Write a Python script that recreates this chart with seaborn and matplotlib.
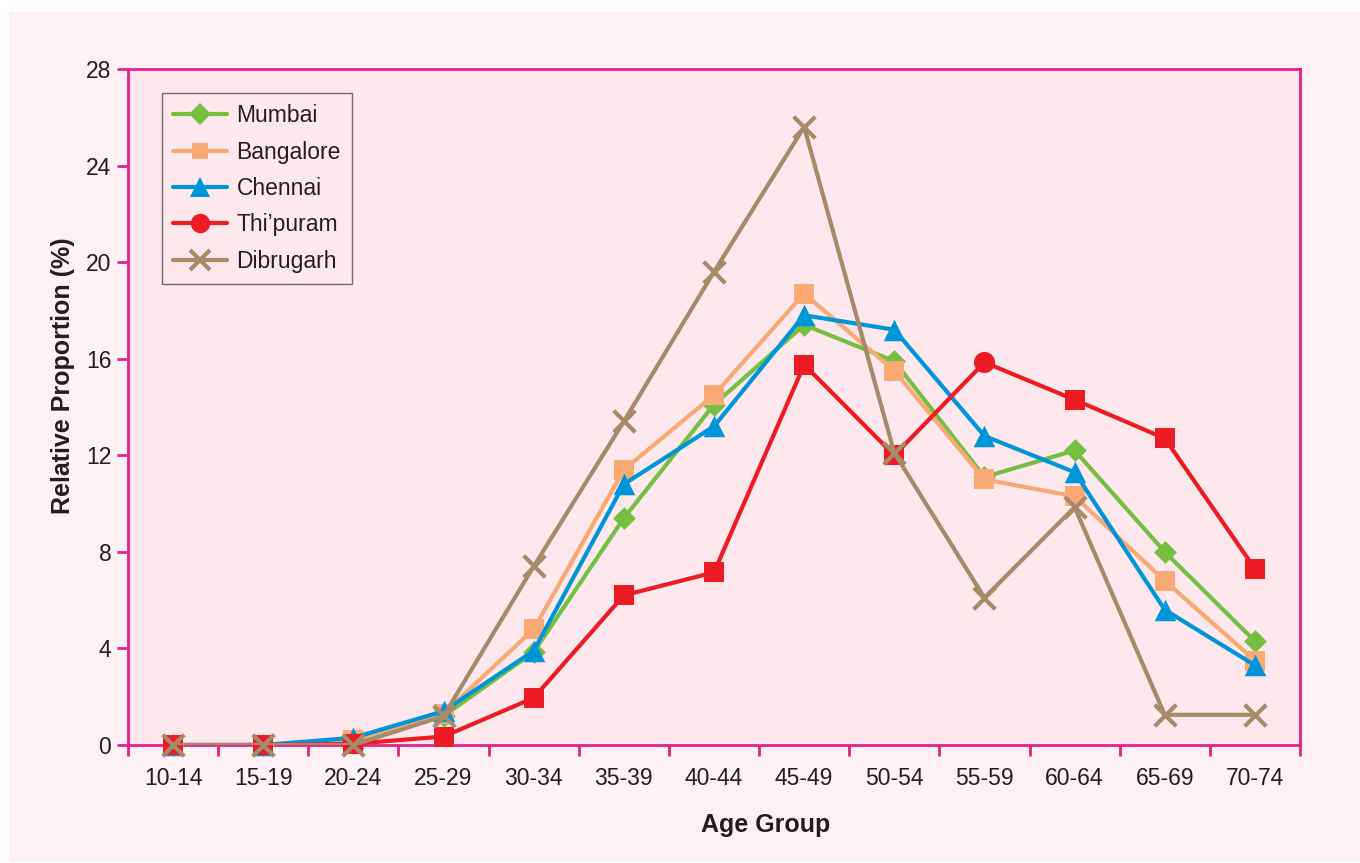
import pandas as pd
import seaborn as sns
import matplotlib.pyplot as plt
from matplotlib.lines import Line2D
from matplotlib.patches import Rectangle

# Data
age_groups = ["10-14", "15-19", "20-24", "25-29", "30-34", "35-39", "40-44",
              "45-49", "50-54", "55-59", "60-64", "65-69", "70-74"]
mumbai = [0, 0, 0.1, 1.2, 3.85, 9.4, 14.1, 17.4, 15.9, 11.1, 12.2, 8.0, 4.3]
bangalore = [0, 0, 0.2, 1.3, 4.8, 11.4, 14.5, 18.7, 15.5, 11.0, 10.3, 6.8, 3.5]
chennai = [0, 0, 0.3, 1.4, 3.9, 10.8, 13.2, 17.8, 17.2, 12.8, 11.3, 5.6, 3.3]
thipuram = [0, 0, 0.05, 0.35, 1.95, 6.2, 7.15, 15.75, 12.0, 15.85, 14.3, 12.7, 7.3]
dibrugarh = [0, 0, 0, 1.2, 7.4, 13.4, 19.6, 25.6, 12.1, 6.1, 9.85, 1.25, 1.25]
# Thi'puram point drawn with a circle instead of a square
thipuram_circle_group = "55-59"

series_names = ["Mumbai", "Bangalore", "Chennai", "Thi\u2019puram", "Dibrugarh"]
series_values = [mumbai, bangalore, chennai, thipuram, dibrugarh]
colors = ["#77BF43", "#F9AA74", "#0095D8", "#ED1C24", "#A68A6A"]
markers = ["D", "s", "^", "s", "x"]
marker_sizes = [135, 190, 240, 190, 240]

rows = []
for name, vals in zip(series_names, series_values):
    for i, (g, v) in enumerate(zip(age_groups, vals)):
        rows.append({"Series": name, "pos": i, "Age": g, "Value": v})
df = pd.DataFrame(rows)

sns.set_theme(style="white")
plt.rcParams["font.family"] = ["Liberation Sans", "DejaVu Sans"]

outer_bg = "#FDF1F5"
plot_bg = "#FCE8ED"
axis_col = "#E5218A"
text_col = "#231F20"

fig = plt.figure(figsize=(13.6, 8.63), dpi=100, facecolor="white")
fig.patches.append(Rectangle((9 / 1360, 0.002), 1 - 9 / 1360, 1 - 12 / 863 - 0.002,
                             transform=fig.transFigure, facecolor=outer_bg,
                             edgecolor="none", zorder=-10))
ax = fig.add_axes([128 / 1360, 1 - 745 / 863, 1172 / 1360, 676 / 863])
ax.set_zorder(1)
ax.set_facecolor(plot_bg)

for k, (name, color, mk, ms) in enumerate(zip(series_names, colors, markers, marker_sizes)):
    sub = df[df["Series"] == name]
    sns.lineplot(data=sub, x="pos", y="Value", color=color, linewidth=3.0,
                 ax=ax, zorder=3 + 2 * k, legend=False)
    if name == "Thi\u2019puram":
        is_circle = sub["Age"] == thipuram_circle_group
        sns.scatterplot(data=sub[~is_circle], x="pos", y="Value", color=color,
                        marker="s", s=ms, linewidth=0, ax=ax, zorder=4 + 2 * k,
                        legend=False, clip_on=False)
        sns.scatterplot(data=sub[is_circle], x="pos", y="Value", color=color,
                        marker="o", s=230, linewidth=0, ax=ax, zorder=4 + 2 * k,
                        legend=False, clip_on=False)
    elif mk == "x":
        sns.scatterplot(data=sub, x="pos", y="Value", color=color, marker="x",
                        s=ms, linewidth=3.0, ax=ax, zorder=4 + 2 * k, legend=False,
                        clip_on=False)
    else:
        sns.scatterplot(data=sub, x="pos", y="Value", color=color, marker=mk,
                        s=ms, linewidth=0, ax=ax, zorder=4 + 2 * k, legend=False,
                        clip_on=False)

ax.set_xlim(-0.5, len(age_groups) - 0.5)
ax.set_ylim(0, 28)
ax.set_yticks(range(0, 29, 4))
ax.set_xticks(range(len(age_groups)))
ax.set_xticklabels(age_groups)
ax.set_xticks([i - 0.5 for i in range(len(age_groups) + 1)], minor=True)
ax.tick_params(axis="x", which="major", length=0, pad=16, labelsize=16.5, colors=text_col)
ax.tick_params(axis="x", which="minor", length=8, width=2, color=axis_col, direction="out",
               bottom=True)
ax.tick_params(axis="y", length=8, width=2, color=axis_col, direction="out",
               labelsize=16.5, labelcolor=text_col, pad=4, left=True)
for side in ["left", "right", "top", "bottom"]:
    ax.spines[side].set_visible(True)
    ax.spines[side].set_color(axis_col)
    ax.spines[side].set_linewidth(2)

ax.set_xlabel("Age Group", fontsize=18, fontweight="bold", color=text_col)
ax.set_ylabel("Relative Proportion (%)", fontsize=18, fontweight="bold", color=text_col)
ax.xaxis.set_label_coords(0.544, -0.101)
ax.yaxis.set_label_coords(-0.045, 0.547)

legend_markers = ["D", "s", "^", "o", "x"]
legend_msizes = [11, 12, 14, 14, 14]
handles = [Line2D([0], [0], color=c, lw=3.0, marker=m, markersize=s,
                  markeredgewidth=(3.0 if m == "x" else 0), markeredgecolor=c)
           for c, m, s in zip(colors, legend_markers, legend_msizes)]
leg = ax.legend(handles, series_names, loc="upper left", bbox_to_anchor=(0.029, 0.9645),
                borderaxespad=0, fontsize=16.5, frameon=True, fancybox=False,
                handlelength=2.35, labelspacing=0.58, borderpad=0.5, handletextpad=0.4)
leg.get_frame().set_edgecolor("#4D4D4D")
leg.get_frame().set_linewidth(1.0)
leg.get_frame().set_facecolor(plot_bg)
for t in leg.get_texts():
    t.set_color(text_col)

fig.savefig("out.png", dpi=100, facecolor=fig.get_facecolor())
